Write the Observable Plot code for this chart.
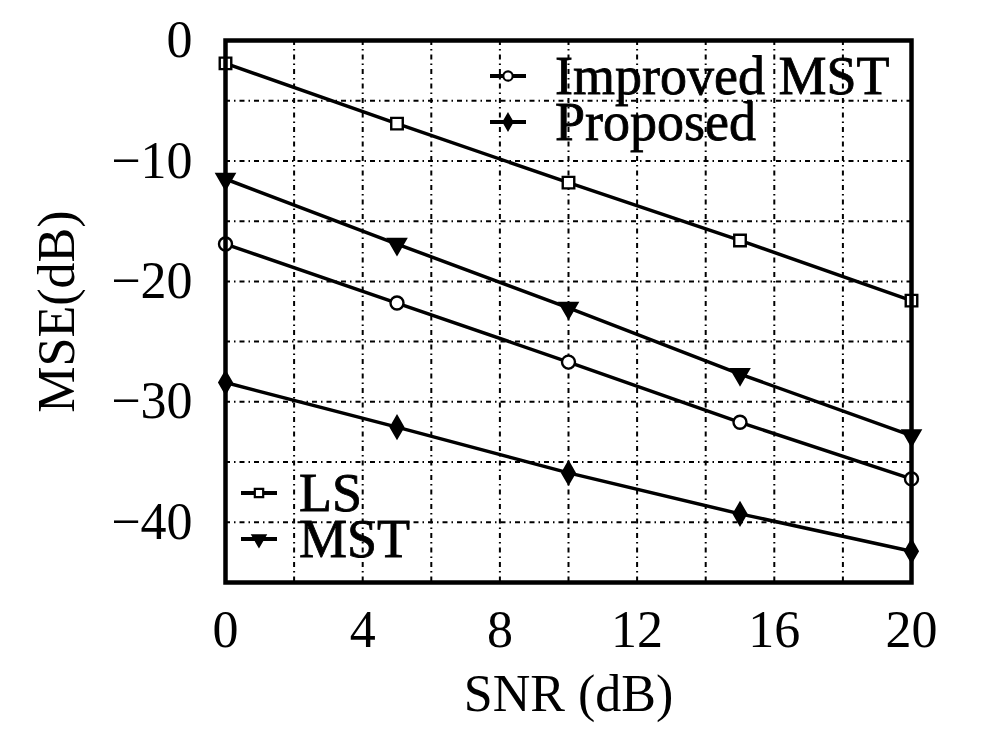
<!DOCTYPE html>
<html>
<head>
<meta charset="utf-8">
<script src="https://cdn.jsdelivr.net/npm/d3@7"></script>
<script src="https://cdn.jsdelivr.net/npm/@observablehq/plot@0.6"></script>
<style>
  html, body { margin: 0; padding: 0; background: white; }
  #chart { width: 985px; height: 742px; }
  text { font-family: "Liberation Serif", "DejaVu Serif", serif; }
</style>
</head>
<body>
<div id="chart"></div>
<script>
// ---- data ----
const snr = [0, 5, 10, 15, 20];
const lsMSE = [-1.9, -6.9, -11.8, -16.6, -21.6];
const mstMSE = [-11.5, -16.9, -22.2, -27.7, -32.8];
const improvedMSE = [-16.9, -21.8, -26.7, -31.7, -36.4];
const proposedMSE = [-28.4, -32.1, -35.9, -39.3, -42.4];

const seriesNames = ["LS", "MST", "Improved MST", "Proposed"];
const xTicks = [0, 4, 8, 12, 16, 20];
const yTicks = [0, -10, -20, -30, -40];
const gridX = [2, 4, 6, 8, 10, 12, 14, 16, 18];
const gridY = [-40, -35, -30, -25, -20, -15, -10, -5];
const legendTop = ["Improved MST", "Proposed"];
const legendBottom = ["LS", "MST"];

// ---- styling ----
const symbolStyle = {
  "LS": {symbol: "square", fill: "white", rotate: 0, d3sym: d3.symbolSquare},
  "MST": {symbol: "triangle", fill: "black", rotate: 180, d3sym: d3.symbolTriangle},
  "Improved MST": {symbol: "circle", fill: "white", rotate: 0, d3sym: d3.symbolCircle},
  "Proposed": {symbol: "diamond", fill: "black", rotate: 0, d3sym: d3.symbolDiamond}
};

const allValues = [lsMSE, mstMSE, improvedMSE, proposedMSE];
const table = [];
seriesNames.forEach((name, k) => {
  snr.forEach((x, i) => table.push({series: name, snr: x, mse: allValues[k][i]}));
});

const FONT = "Liberation Serif";

function legendMark(entries, anchor) {
  return (index, scales, values, dims) => {
    const g = d3.create("svg:g")
      .attr("font-family", FONT)
      .attr("font-size", 54)
      .attr("text-anchor", "start")
      .attr("fill", "black");
    const left = dims.marginLeft, top = dims.marginTop;
    const bottom = dims.height - dims.marginBottom;
    let x0, y0, rowH = 46, textDx;
    if (anchor === "top") { x0 = left + 283; y0 = top + 36; textDx = 47; }
    else { x0 = left + 34; y0 = bottom - 89; textDx = 40; }
    entries.forEach((name, i) => {
      const st = symbolStyle[name];
      const y = y0 + i * rowH;
      g.append("line")
        .attr("x1", x0 - 18).attr("x2", x0 + 18)
        .attr("y1", y).attr("y2", y)
        .attr("stroke", "black").attr("stroke-width", 4);
      g.append("path")
        .attr("d", d3.symbol(st.d3sym, 70)())
        .attr("transform", `translate(${x0},${y}) rotate(${st.rotate})`)
        .attr("fill", st.fill).attr("stroke", "black").attr("stroke-width", 2.2);
      g.append("text")
        .attr("x", x0 + textDx).attr("y", y)
        .attr("dy", "0.34em")
        .attr("text-anchor", "start")
        .attr("stroke", "black").attr("stroke-width", 0.8)
        .text(name);
    });
    return g.node();
  };
}

const chart = Plot.plot({
  width: 985,
  height: 742,
  marginLeft: 225,
  marginRight: 74,
  marginTop: 40,
  marginBottom: 160,
  style: {fontFamily: FONT, color: "black", background: "white", overflow: "visible"},
  x: {domain: [0, 20]},
  y: {domain: [-45, 0]},
  marks: [
    Plot.ruleX(gridX, {stroke: "black", strokeWidth: 2, strokeDasharray: "5,4,1.5,4"}),
    Plot.ruleY(gridY, {stroke: "black", strokeWidth: 2, strokeDasharray: "5,4,1.5,4"}),
    Plot.axisX({
      ticks: xTicks, tickSize: 0, tickPadding: 28, fontSize: 52,
      stroke: "black", strokeWidth: 0.8,
      label: "SNR (dB)", labelAnchor: "center", labelOffset: 128, labelArrow: "none"
    }),
    Plot.axisY({
      ticks: yTicks, tickSize: 0, tickPadding: 33, fontSize: 52,
      stroke: "black", strokeWidth: 0.8,
      label: "MSE(dB)", labelAnchor: "center", labelOffset: 188, labelArrow: "none"
    }),
    Plot.line(table, {x: "snr", y: "mse", z: "series", stroke: "black", strokeWidth: 3.5}),
    ...seriesNames.map(name => Plot.dot(table.filter(d => d.series === name), {
      x: "snr", y: "mse",
      symbol: symbolStyle[name].symbol,
      rotate: symbolStyle[name].rotate,
      r: 6.5,
      fill: symbolStyle[name].fill,
      stroke: "black", strokeWidth: 2.4
    })),
    Plot.frame({stroke: "black", strokeWidth: 4.5}),
    legendMark(legendTop, "top"),
    legendMark(legendBottom, "bottom")
  ]
});

document.getElementById("chart").appendChild(chart);
</script>
</body>
</html>
